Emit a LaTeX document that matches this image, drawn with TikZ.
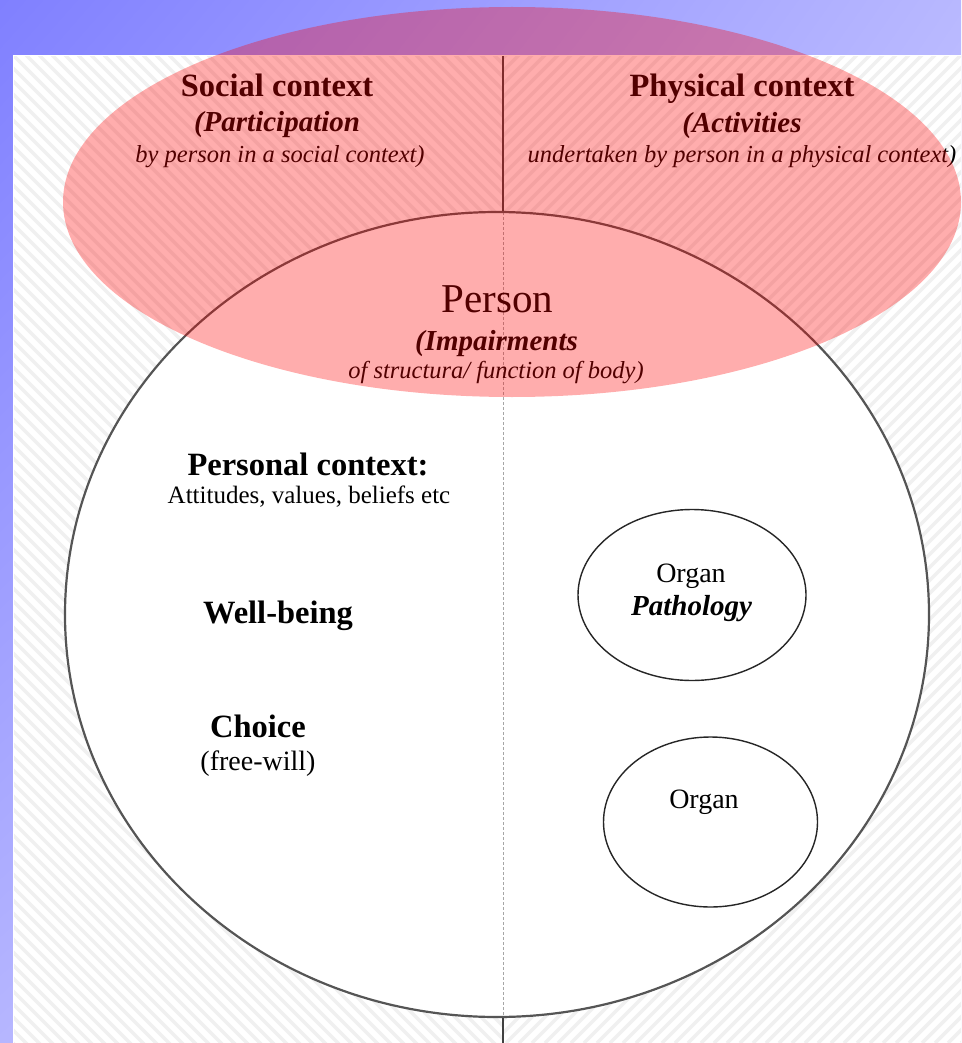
\documentclass[tikz,border=0pt]{standalone}
\usepackage{fontspec}
\setmainfont{Liberation Serif}
\usetikzlibrary{shapes.geometric,shadings}
\definecolor{bgUL}{RGB}{128,128,255}
\definecolor{bgUR}{RGB}{184,184,255}
\definecolor{bgLL}{RGB}{182,182,255}
\definecolor{bgLR}{RGB}{225,225,255}
\definecolor{hatch}{RGB}{240,240,240}
\definecolor{rim}{RGB}{85,85,85}
\begin{document}
\begin{tikzpicture}[x=1pt,y=-1pt,
  txt/.style={anchor=base, inner sep=0pt},
  head/.style={txt, font=\fontsize{32.5}{38}\selectfont\bfseries},
  sub/.style={txt, font=\fontsize{29}{34}\selectfont\bfseries\itshape},
  note/.style={txt, font=\fontsize{24.5}{30}\selectfont\itshape},
  plain/.style={txt, font=\fontsize{25}{30}\selectfont},
  organtxt/.style={txt, font=\fontsize{28}{32}\selectfont},
  organ/.style={draw=black!85, line width=1.4pt, ellipse, inner sep=0pt},
  hatchline/.style={hatch, line width=3.5pt},
  solidline/.style={draw=black!75, line width=1.2pt},
  dottedline/.style={draw=black!35, line width=0.8pt, dash pattern=on 3pt off 2pt}
]
\useasboundingbox (0,0) rectangle (961,1043);
% blue background
\shade[upper left=bgUL, upper right=bgUR, lower left=bgLL, lower right=bgLR] (0,0) rectangle (961,1043);
% white panel
\fill[white] (13,55) rectangle (961,1043);
% hatch, left half
\begin{scope}
  \clip (14,56.5) rectangle (503,1043);
  \foreach \i in {-1040,-1027,...,520} \draw[hatchline] (\i,55) -- ++(1000,1000);
\end{scope}
% hatch, right half
\begin{scope}
  \clip (503,56.5) rectangle (961,1043);
  \foreach \i in {-560,-547,...,970} \draw[hatchline] (\i,1043) -- ++(1000,-1000);
\end{scope}
% body ellipse
\fill[white] (497,614.5) ellipse [x radius=432pt, y radius=402.5pt];
% vertical divider
\coordinate (vtop) at (503,56);
\coordinate (etop) at (503,212);
\coordinate (ebot) at (503,1017);
\coordinate (vbot) at (503,1043);
\draw[solidline] (vtop) -- (etop);
\draw[dottedline] (etop) -- (ebot);
\draw[solidline] (ebot) -- (vbot);
\node[draw=rim, line width=2.2pt, ellipse, inner sep=0pt, minimum width=864pt, minimum height=805pt] (body) at (497,614.5) {};
% organs
\node[organ, minimum width=228pt, minimum height=171pt] (organA) at (692,595) {};
\node[organ, minimum width=214pt, minimum height=170pt] (organB) at (710.5,822) {};
\node[organtxt] (organAt) at (691,582) {Organ};
\node[txt, font=\fontsize{29}{34}\selectfont\bfseries\itshape] (patho) at (691.5,615) {Pathology};
\node[organtxt] (organBt) at (704,808) {Organ};
% social
\node[head] (social) at (277,97) {Social context};
\node[sub] (partic) at (277,132) {(Participation};
\node[note] (socnote) at (280,163) {by person in a social context)};
% physical
\node[head] (phys) at (742,97) {Physical context};
\node[sub] (activ) at (742,133) {(Activities};
\node[note] (physnote) at (742,163) {undertaken by person in a physical context)};
% person
\node[txt, font=\fontsize{41}{46}\selectfont] (person) at (497.5,312) {Person};
\node[sub] (impair) at (496.5,350) {(Impairments};
\node[note] (impnote) at (496,378) {of structura/ function of body)};
% personal context
\node[head] (personal) at (308,475) {Personal context:};
\node[plain] (attit) at (309,503) {Attitudes, values, beliefs etc};
\node[head] (well) at (278,623) {Well-being};
\node[head] (choice) at (258,737) {Choice};
\node[txt, font=\fontsize{28}{32}\selectfont] (free) at (258,770) {(free-will)};
% red translucent context ellipse
\fill[red, opacity=0.32] (512,202) ellipse [x radius=449pt, y radius=195pt];
\end{tikzpicture}
\end{document}
